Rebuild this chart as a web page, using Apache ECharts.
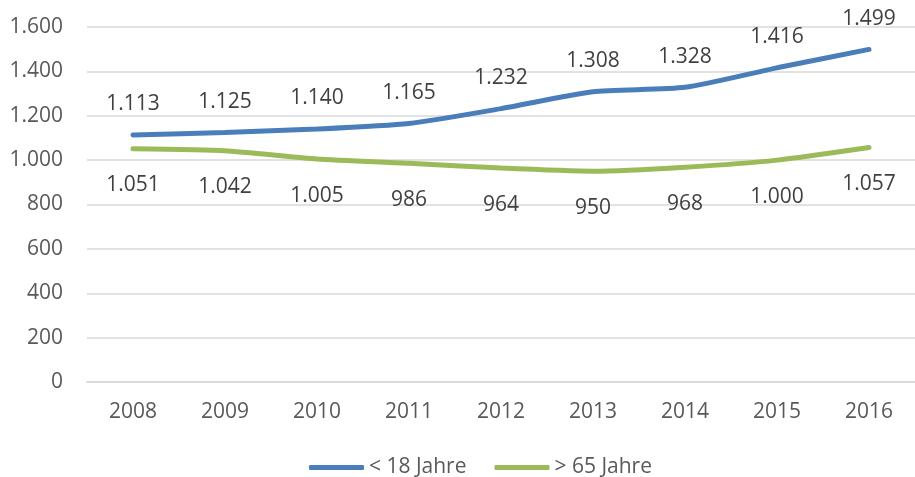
<!DOCTYPE html>
<html>
<head>
<meta charset="utf-8">
<script src="https://cdn.jsdelivr.net/npm/echarts@6/dist/echarts.min.js"></script>
<style>
  html, body { margin: 0; padding: 0; background: #fff; }
  #chart { width: 915px; height: 477px; }
</style>
</head>
<body>
<div id="chart"></div>
<script>
  var years = ['2008', '2009', '2010', '2011', '2012', '2013', '2014', '2015', '2016'];
  var under18 = [1113, 1125, 1140, 1165, 1232, 1308, 1328, 1416, 1499];
  var over65 = [1051, 1042, 1005, 986, 964, 950, 968, 1000, 1057];
  var seriesNames = ['< 18 Jahre', '> 65 Jahre'];

  // german thousand separator
  function fmt(v) {
    v = Math.round(v);
    if (v < 1000) return String(v);
    var rest = String(v % 1000);
    while (rest.length < 3) rest = '0' + rest;
    return Math.floor(v / 1000) + '.' + rest;
  }

  var font = '"Open Sans", "Noto Sans", sans-serif';
  var chart = echarts.init(document.getElementById('chart'));
  chart.setOption({
    animation: false,
    textStyle: { fontFamily: font },
    grid: { left: 87, top: 27, width: 837, height: 355 },
    legend: {
      top: 452,
      left: 304,
      itemWidth: 55,
      itemHeight: 5,
      itemGap: 28,
      icon: 'roundRect',
      textStyle: { color: '#595959', fontSize: 21, fontFamily: font },
      data: seriesNames
    },
    xAxis: {
      type: 'category',
      data: years,
      axisTick: { show: false },
      axisLine: { lineStyle: { color: '#d9d9d9', width: 1.5 } },
      axisLabel: { color: '#595959', fontSize: 21, margin: 20 }
    },
    yAxis: {
      type: 'value',
      min: 0,
      max: 1600,
      interval: 200,
      axisLine: { show: false },
      axisTick: { show: false },
      splitLine: { lineStyle: { color: '#d9d9d9', width: 1.5 } },
      axisLabel: { color: '#595959', fontSize: 21, margin: 24, formatter: fmt }
    },
    series: [
      {
        name: seriesNames[0],
        type: 'line',
        data: under18,
        smooth: 0.2,
        symbol: 'circle',
        symbolSize: 0.1,
        color: '#4a7ebb',
        lineStyle: { width: 5, cap: 'round' },
        labelLayout: { hideOverlap: false },
        label: {
          show: true, position: 'top', distance: 20,
          color: '#404040', fontSize: 21, fontFamily: font,
          formatter: function (p) { return fmt(p.value); }
        }
      },
      {
        name: seriesNames[1],
        type: 'line',
        data: over65,
        smooth: 0.2,
        symbol: 'circle',
        symbolSize: 0.1,
        color: '#9bbb59',
        lineStyle: { width: 5, cap: 'round' },
        labelLayout: { hideOverlap: false },
        label: {
          show: true, position: 'bottom', distance: 26,
          color: '#404040', fontSize: 21, fontFamily: font,
          formatter: function (p) { return fmt(p.value); }
        }
      }
    ]
  });
</script>
</body>
</html>
